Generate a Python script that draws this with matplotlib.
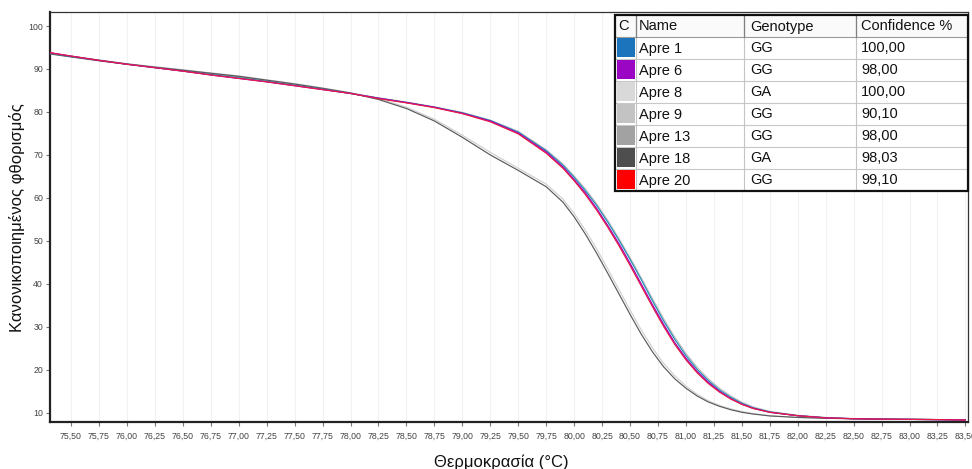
import matplotlib
matplotlib.use("Agg")
import matplotlib.pyplot as plt
from matplotlib.patches import Rectangle

plt.rcParams['font.family'] = ['Liberation Sans', 'DejaVu Sans']

# ---------------- data ----------------
temps = [75.31, 75.5, 75.75, 76.0, 76.25, 76.5, 76.75, 77.0, 77.25, 77.5, 77.75, 78.0,
         78.25, 78.5, 78.75, 79.0, 79.25, 79.5, 79.75, 79.9, 80.0, 80.1, 80.2, 80.3,
         80.4, 80.5, 80.6, 80.7, 80.8, 80.9, 81.0, 81.1, 81.2, 81.3, 81.4, 81.5, 81.6,
         81.75, 82.0, 82.25, 82.5, 82.75, 83.0, 83.25, 83.5]

apre1 = [93.7, 92.9, 92.0, 91.1, 90.3, 89.5, 88.7, 87.9, 87.1, 86.2, 85.3, 84.3, 83.2, 82.2,
         81.1, 79.8, 78.0, 75.3, 71.0, 67.6, 64.8, 61.7, 58.3, 54.4, 50.2, 45.7, 41.0, 36.1,
         31.4, 27.1, 23.3, 20.1, 17.5, 15.3, 13.6, 12.2, 11.15, 10.2, 9.3, 8.85, 8.6, 8.5,
         8.45, 8.4, 8.3]
apre6 = [93.8, 93.0, 92.0, 91.1, 90.3, 89.5, 88.6, 87.8, 87.0, 86.1, 85.2, 84.3, 83.2, 82.2,
         81.1, 79.7, 77.9, 75.1, 70.7, 67.2, 64.3, 61.2, 57.6, 53.6, 49.4, 44.8, 40.0, 35.2,
         30.6, 26.3, 22.7, 19.6, 17.1, 15.0, 13.3, 12.0, 11.05, 10.1, 9.3, 8.8, 8.6, 8.5,
         8.45, 8.4, 8.3]
apre8 = [93.6, 92.9, 92.0, 91.2, 90.5, 89.8, 89.1, 88.4, 87.5, 86.6, 85.6, 84.5, 83.1, 81.1,
         78.3, 74.6, 70.6, 66.9, 63.2, 59.7, 56.4, 52.5, 48.2, 43.5, 38.7, 33.9, 29.3, 25.1,
         21.5, 18.6, 16.2, 14.3, 12.8, 11.7, 10.9, 10.3, 9.8, 9.3, 8.9, 8.7, 8.6, 8.5,
         8.45, 8.4, 8.3]
apre9 = [93.6, 92.9, 92.0, 91.2, 90.5, 89.8, 89.0, 88.2, 87.3, 86.4, 85.4, 84.4, 83.3, 82.3,
         81.2, 79.9, 78.1, 75.5, 71.2, 67.9, 65.1, 62.1, 58.7, 54.8, 50.6, 46.1, 41.4, 36.6,
         31.9, 27.6, 23.8, 20.6, 17.9, 15.7, 13.9, 12.45, 11.35, 10.3, 9.4, 8.9, 8.65, 8.5,
         8.45, 8.4, 8.3]
apre13 = [93.7, 93.0, 92.1, 91.2, 90.4, 89.7, 88.9, 88.1, 87.2, 86.3, 85.3, 84.3, 83.2, 82.2,
          81.1, 79.7, 77.9, 75.0, 70.5, 67.0, 64.1, 60.9, 57.4, 53.4, 49.1, 44.5, 39.7, 34.9,
          30.3, 26.1, 22.5, 19.4, 16.9, 14.9, 13.25, 12.0, 11.0, 10.1, 9.3, 8.8, 8.6, 8.5,
          8.45, 8.4, 8.3]
apre18 = [93.5, 92.8, 91.9, 91.1, 90.4, 89.7, 89.0, 88.3, 87.4, 86.5, 85.5, 84.4, 82.9, 80.8,
          77.9, 74.1, 70.0, 66.4, 62.6, 59.0, 55.6, 51.6, 47.2, 42.5, 37.7, 32.9, 28.3, 24.2,
          20.7, 17.9, 15.7, 13.9, 12.5, 11.5, 10.7, 10.1, 9.7, 9.25, 8.9, 8.7, 8.6, 8.5,
          8.45, 8.4, 8.3]
apre20 = [93.8, 93.0, 92.0, 91.1, 90.3, 89.5, 88.6, 87.8, 87.0, 86.1, 85.2, 84.3, 83.1, 82.1,
          81.0, 79.6, 77.7, 74.9, 70.4, 66.9, 64.0, 60.8, 57.2, 53.2, 48.9, 44.3, 39.5, 34.7,
          30.1, 25.9, 22.3, 19.3, 16.8, 14.8, 13.2, 11.95, 11.0, 10.1, 9.3, 8.8, 8.6, 8.5,
          8.45, 8.4, 8.3]

names = ["Apre 1", "Apre 6", "Apre 8", "Apre 9", "Apre 13", "Apre 18", "Apre 20"]
genotypes = ["GG", "GG", "GA", "GG", "GG", "GA", "GG"]
confidence = ["100,00", "98,00", "100,00", "90,10", "98,00", "98,03", "99,10"]
series = [apre1, apre6, apre8, apre9, apre13, apre18, apre20]
swatch_colors = ["#1c74bc", "#9a06c4", "#d9d9d9", "#c3c3c3", "#a2a2a2", "#4e4e4e", "#ff0000"]
line_colors = ["#1f8fb0", "#9a06c4", "#cfcfcf", "#bdbdbd", "#9e9e9e", "#5a5a5a", "#ec1848"]
draw_order = [2, 3, 4, 5, 0, 1, 6]

header = ["C", "Name", "Genotype", "Confidence %"]
xticks = [75.5 + 0.25 * i for i in range(33)]
xtick_labels = [f"{t:.2f}".replace(".", ",") for t in xticks]
yticks = [10, 20, 30, 40, 50, 60, 70, 80, 90, 100]

xlabel = "Θερμοκρασία (°C)"
ylabel = "Κανονικοποιημένος φθορισμός"

# ---------------- figure ----------------
W, H = 972, 469
fig = plt.figure(figsize=(W / 100, H / 100), dpi=100)
fig.patch.set_facecolor("white")

L, R, T, B = 50, 968, 12, 422
ax = fig.add_axes([L / W, 1 - B / H, (R - L) / W, (B - T) / H])
ax.set_xlim(75.312, 83.523)
ax.set_ylim(7.84, 103.26)

for i in draw_order:
    ax.plot(temps, series[i], color=line_colors[i], lw=0.85, solid_joinstyle="round",
            solid_capstyle="round", zorder=3)

ax.set_xticks(xticks)
ax.set_xticklabels(xtick_labels)
ax.set_yticks(yticks)
ax.set_yticklabels([str(v) for v in yticks])
ax.tick_params(axis="x", length=3, width=0.8, color="#777777", labelsize=6.3,
               labelcolor="#444444", pad=4)
ax.tick_params(axis="y", length=3, width=0.8, color="#777777", labelsize=6.3,
               labelcolor="#444444", pad=2)
ax.grid(True, axis="x", color="#f2f2f2", lw=0.8, zorder=0)

for side in ["left", "bottom"]:
    ax.spines[side].set_linewidth(1.6)
    ax.spines[side].set_color("#222222")
for side in ["top", "right"]:
    ax.spines[side].set_linewidth(0.9)
    ax.spines[side].set_color("#333333")

fig.text(501 / W, 1 - 462 / H, xlabel, ha="center", va="center", fontsize=12, color="#111111")
fig.text(17 / W, 1 - 218 / H, ylabel, ha="center", va="center", rotation=90,
         fontsize=12, color="#111111")

# ---------------- table overlay ----------------
ov = fig.add_axes([0, 0, 1, 1], zorder=10)
ov.set_xlim(0, W)
ov.set_ylim(H, 0)
ov.axis("off")

col_edges = [615, 636, 744, 856, 968]
col_pad = [3, 3, 6, 5]
top, head_h, row_h = 15, 22, 22
nrows = len(names)
bottom = top + head_h + nrows * row_h

ov.add_patch(Rectangle((col_edges[0], top), col_edges[-1] - col_edges[0], bottom - top,
                       facecolor="white", edgecolor="none", zorder=1))
ov.add_patch(Rectangle((col_edges[0], top), col_edges[-1] - col_edges[0], head_h,
                       facecolor="#fafafa", edgecolor="none", zorder=1))

for k in range(1, nrows + 1):
    y = top + head_h + (k - 1) * row_h
    ov.plot([col_edges[0], col_edges[-1]], [y, y], color="#c8c8c8" if k > 1 else "#9a9a9a",
            lw=0.8, zorder=2)
for x in col_edges[1:-1]:
    ov.plot([x, x], [top, bottom], color="#c4c4c4", lw=0.8, zorder=2)
    ov.plot([x, x], [top, top + head_h], color="#808080", lw=0.9, zorder=2)

for c, txt in enumerate(header):
    ov.text(col_edges[c] + col_pad[c], top + head_h / 2 + 0.5, txt, ha="left", va="center",
            fontsize=10.5, color="#111111", zorder=4)

for r in range(nrows):
    y0 = top + head_h + r * row_h
    yc = y0 + row_h / 2 + 0.5
    ov.add_patch(Rectangle((col_edges[0] + 1.5, y0 + 1.5), col_edges[1] - col_edges[0] - 3,
                           row_h - 3, facecolor=swatch_colors[r], edgecolor="none", zorder=3))
    for c, txt in enumerate([names[r], genotypes[r], confidence[r]]):
        ov.text(col_edges[c + 1] + col_pad[c + 1], yc, txt, ha="left", va="center",
                fontsize=10.5, color="#111111", zorder=4)

ov.add_patch(Rectangle((col_edges[0], top), col_edges[-1] - col_edges[0], bottom - top,
                       facecolor="none", edgecolor="#111111", lw=1.6, zorder=5))

fig.savefig("out.png", dpi=100, facecolor="white")
